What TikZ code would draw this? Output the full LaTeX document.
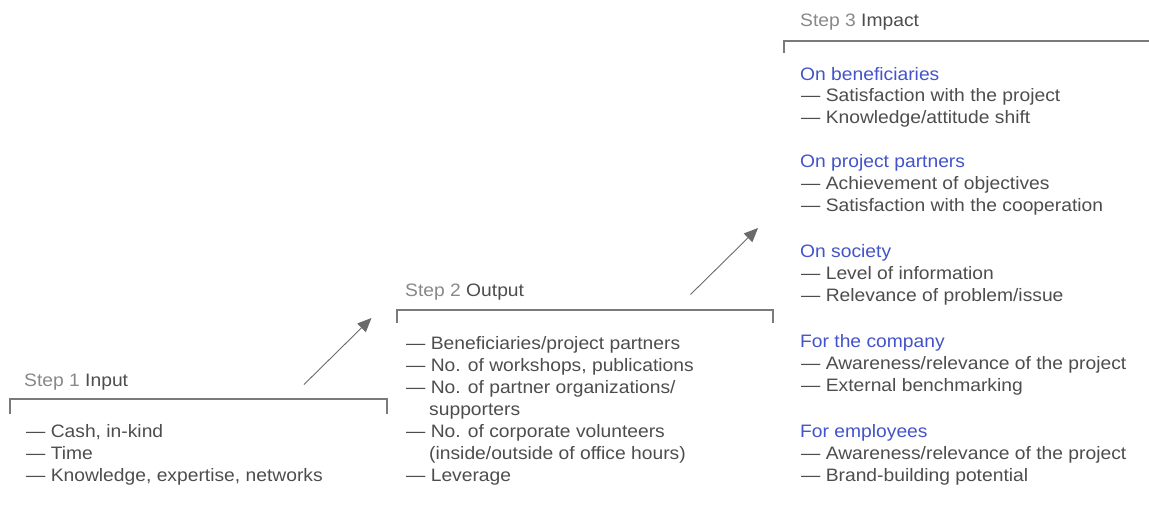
\documentclass[tikz,border=0pt]{standalone}
\usepackage{fontspec}
\setmainfont[FakeStretch=1.07]{Liberation Sans}
\usetikzlibrary{arrows.meta}
\definecolor{txt}{HTML}{4D4D4D}
\definecolor{lbl}{HTML}{888888}
\definecolor{headc}{HTML}{4353C9}
\definecolor{rulec}{HTML}{7A7A7A}
\definecolor{arrc}{HTML}{6A6A6A}
\begin{document}
\begin{tikzpicture}[x=1pt,y=-1pt,
  item/.style={anchor=base west, inner sep=0, text=txt, font=\fontsize{18}{22}\selectfont},
  heading/.style={item, text=headc},
  steplabel/.style={item},
  bracket/.style={draw=rulec, line width=1.1pt},
  flow/.style={draw=arrc, line width=0.9pt, -{Triangle[length=14pt,width=12pt]}}]
\useasboundingbox (0,0) rectangle (1149,515);

% Step 1
\node[steplabel] (s1) at (24,386) {\textcolor{lbl}{Step 1} Input};
\draw[bracket] (10,414) -- (10,399) -- (387,399) -- (387,414);
\node[item] (in1) at (26,437) {— Cash, in-kind};
\node[item] (in2) at (26,459) {— Time};
\node[item] (in3) at (26,481) {— Knowledge, expertise, networks};

% Step 2
\node[steplabel] (s2) at (405,296) {\textcolor{lbl}{Step 2} Output};
\draw[bracket] (397,323) -- (397,310) -- (773,310) -- (773,323);
\node[item] (out1) at (406,349) {— Beneficiaries/project partners};
\node[item] (out2) at (406,371) {— No. of workshops, publications};
\node[item] (out3) at (406,393) {— No. of partner organizations/};
\node[item] (out3b) at (429,415) {supporters};
\node[item] (out4) at (406,437) {— No. of corporate volunteers};
\node[item] (out4b) at (429,459) {(inside/outside of office hours)};
\node[item] (out5) at (406,481) {— Leverage};

% Step 3
\node[steplabel] (s3) at (800,26.5) {\textcolor{lbl}{Step 3} Impact};
\draw[bracket] (784,53) -- (784,41) -- (1149,41);

\node[heading] (h1) at (800,80.5) {On beneficiaries};
\node[item] (h1a) at (801,101.5) {— Satisfaction with the project};
\node[item] (h1b) at (801,123) {— Knowledge/attitude shift};

\node[heading] (h2) at (800,167) {On project partners};
\node[item] (h2a) at (801,189) {— Achievement of objectives};
\node[item] (h2b) at (801,211) {— Satisfaction with the cooperation};

\node[heading] (h3) at (800,257) {On society};
\node[item] (h3a) at (801,279) {— Level of information};
\node[item] (h3b) at (801,301) {— Relevance of problem/issue};

\node[heading] (h4) at (800,347) {For the company};
\node[item] (h4a) at (801,369) {— Awareness/relevance of the project};
\node[item] (h4b) at (801,391) {— External benchmarking};

\node[heading] (h5) at (800,437) {For employees};
\node[item] (h5a) at (801,459) {— Awareness/relevance of the project};
\node[item] (h5b) at (801,481) {— Brand-building potential};

% Arrows
\coordinate (a1s) at (304,384.5);
\coordinate (a1e) at (371.5,318);
\draw[flow] (a1s) -- (a1e);
\coordinate (a2s) at (690.5,294.5);
\coordinate (a2e) at (758,228);
\draw[flow] (a2s) -- (a2e);
\end{tikzpicture}
\end{document}
